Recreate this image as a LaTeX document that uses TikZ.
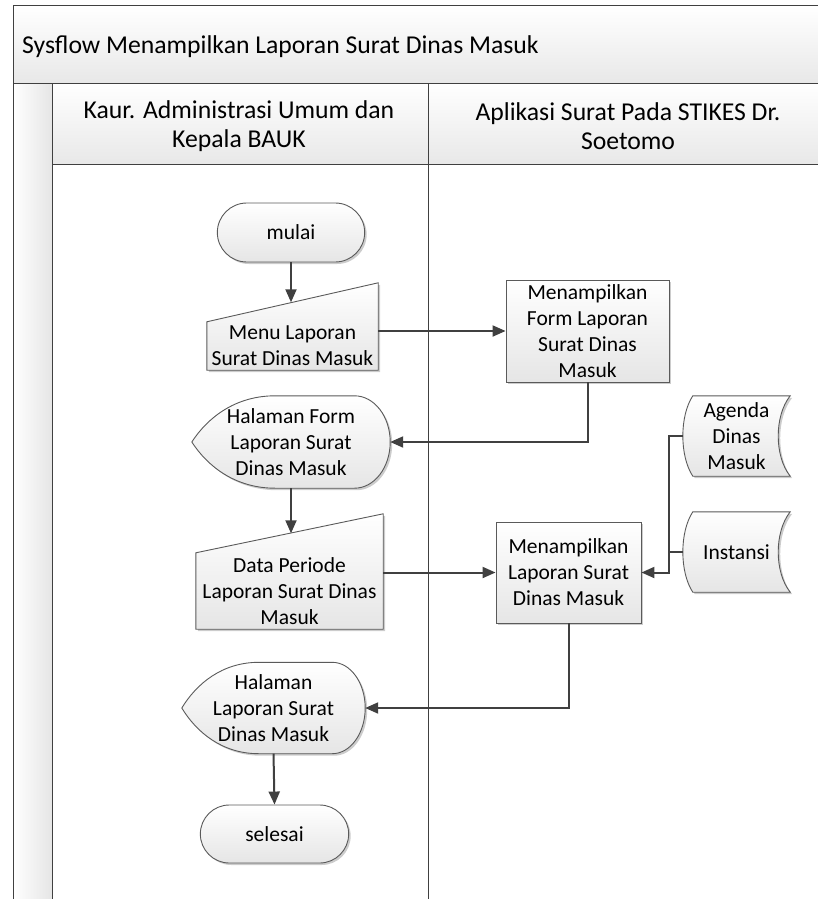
\documentclass[tikz,border=0pt]{standalone}
\usepackage{fontspec}
\setmainfont{Carlito}
\usepackage{tikz}
\usetikzlibrary{
  arrows.meta,
  positioning,
  calc,
  shapes.misc,
  shadows,
  backgrounds
}
\definecolor{linha}{HTML}{404040}
\definecolor{borda}{HTML}{5A5A5A}

\tikzset{
  sombra/.style={drop shadow={shadow xshift=2pt, shadow yshift=-2pt, fill=black, opacity=0.2}},
  forma/.style={draw=borda, line width=0.9pt, top color=white, bottom color=black!10, sombra},
  terminal/.style={forma, rounded rectangle, minimum width=154pt, minimum height=59pt},
  processo/.style={forma, rectangle, minimum width=163pt, minimum height=102pt, align=center, inner sep=0pt},
  texto/.style={align=center, inner sep=0pt},
  cabecalho/.style={texto, font=\fontsize{25.7}{29}\selectfont},
  fluxo/.style={draw=linha, line width=2pt, -{Triangle[length=13pt, width=11pt]}},
  ligacao/.style={draw=linha, line width=2pt},
  moldura/.style={draw=linha, line width=1pt}
}

% Entrada manual (topo inclinado)
\newcommand{\entradamanual}[1]{%
  \draw[forma] (#1.south west) -- (#1.north west) -- ($(#1.north east)+(0,-39)$) -- (#1.south east) -- cycle;}

% Tela de exibição (ponta à esquerda, arco à direita)
\newcommand{\telaexibicao}[1]{%
  \draw[forma] let \p1=(#1.south west), \p2=(#1.north east), \p3=(#1.center) in
    (\x1,\y3)
    .. controls ({\x1+0.08*(\x2-\x1)},{\y3+0.53*(\y2-\y3)}) and ({\x1+0.22*(\x2-\x1)},\y2) .. ({\x1+0.42*(\x2-\x1)},\y2)
    -- ({\x2-0.18*(\x2-\x1)},\y2)
    .. controls ({\x2-0.08*(\x2-\x1)},\y2) and (\x2,{\y3+0.55*(\y2-\y3)}) .. (\x2,\y3)
    .. controls (\x2,{\y3-0.55*(\y2-\y3)}) and ({\x2-0.08*(\x2-\x1)},\y1) .. ({\x2-0.18*(\x2-\x1)},\y1)
    -- ({\x1+0.42*(\x2-\x1)},\y1)
    .. controls ({\x1+0.22*(\x2-\x1)},\y1) and ({\x1+0.08*(\x2-\x1)},{\y3-0.53*(\y2-\y3)}) .. cycle;}

% Dados armazenados (dois lados curvos)
\newcommand{\dadosarmazenados}[1]{%
  \draw[forma] let \p1=(#1.south west), \p2=(#1.north east), \p3=(#1.center) in
    ({\x1+10pt},\y2) -- (\x2,\y2)
    .. controls ({\x2-16pt},{0.5*\y2+0.5*\y3}) and ({\x2-16pt},{0.5*\y1+0.5*\y3}) .. (\x2,\y1)
    -- ({\x1+10pt},\y1)
    .. controls ({\x1-3.3pt},{0.5*\y1+0.5*\y3}) and ({\x1-3.3pt},{0.5*\y2+0.5*\y3}) .. cycle;}

\begin{document}
\begin{tikzpicture}[x=1pt, y=-1pt, every node/.style={font=\fontsize{21.5}{26}\selectfont}]
  \useasboundingbox (0,0) rectangle (817,899);

  % Moldura: faixa do título, cabeçalhos e raias
  \begin{scope}[on background layer]
    \shade[top color=white, bottom color=black!9] (13,6) rectangle (830,83);
    \shade[top color=white, bottom color=black!9] (52,83) rectangle (830,164);
    \shade[left color=white, right color=black!10] (13,83) rectangle (52,905);
    \draw[moldura] (830,6) -- (13,6) -- (13,905);
    \draw[moldura] (13,83) -- (830,83);
    \draw[moldura] (52,83) -- (52,905);
    \draw[moldura] (52,164) -- (830,164);
    \draw[moldura] (428,83) -- (428,905);
  \end{scope}

  % Título e nomes das raias
  \node[cabecalho, anchor=west] (titulo) at (22,47) {Sysflow Menampilkan Laporan Surat Dinas Masuk};
  \node[cabecalho] (raiakaur) at (239,126) {Kaur. Administrasi Umum dan\\Kepala BAUK};
  \node[cabecalho] (raiaapp) at (628,126) {Aplikasi Surat Pada STIKES Dr.\\Soetomo};

  % Símbolos do fluxo
  \node[terminal] (mulai) at (291,232.5) {mulai};
  \node[texto, minimum width=171pt, minimum height=48pt] (menu) at (292.5,346) {Menu Laporan\\Surat Dinas Masuk};
  \node[processo] (form) at (587.5,331) {Menampilkan\\Form Laporan\\Surat Dinas\\Masuk};
  \node[texto, minimum width=198pt, minimum height=92pt] (hform) at (291,442) {Halaman Form\\Laporan Surat\\Dinas Masuk};
  \node[texto, minimum width=107pt, minimum height=80pt] (agenda) at (736.5,436) {Agenda\\Dinas\\Masuk};
  \node[texto, minimum width=187pt, minimum height=76pt] (periode) at (289.5,591) {Data Periode\\Laporan Surat Dinas\\Masuk};
  \node[processo, minimum width=145pt, minimum height=101pt] (lapor) at (568.5,572.5) {Menampilkan\\Laporan Surat\\Dinas Masuk};
  \node[texto, minimum width=107pt, minimum height=80pt] (instansi) at (736.5,552) {Instansi};
  \node[texto, minimum width=183pt, minimum height=91pt] (hlapor) at (273.5,708) {Halaman\\Laporan Surat\\Dinas Masuk};
  \node[terminal, minimum width=155pt, minimum height=58pt] (selesai) at (274.5,834) {selesai};

  % Contornos desenhados atrás dos textos
  \begin{scope}[on background layer]
    \entradamanual{menu}
    \entradamanual{periode}
    \telaexibicao{hform}
    \telaexibicao{hlapor}
    \dadosarmazenados{agenda}
    \dadosarmazenados{instansi}
  \end{scope}

  % Pontos no topo inclinado das entradas manuais
  \coordinate (menutopo) at ($(menu.north west)!0.5!(menu.north east)+(0,-19.5)$);
  \coordinate (periodetopo) at ($(periode.north west)!0.5!(periode.north east)+(0,-19.5)$);

  % Ligações
  \draw[fluxo] (mulai.south) -- (mulai.south |- menutopo);
  \draw[fluxo] (menu.east |- form.west) -- (form.west);
  \draw[fluxo] (form.south) |- (hform.east);
  \draw[fluxo] (hform.south) -- (hform.south |- periodetopo);
  \draw[fluxo] (periode.east |- lapor.west) -- (lapor.west);
  \draw[fluxo] (agenda.west) -- ++(-14,0) |- (lapor.east);
  \draw[ligacao] (instansi.west) -- ++(-14,0);
  \draw[fluxo] (lapor.south) |- (hlapor.east);
  \draw[fluxo] (hlapor.south) -- (selesai.north);
\end{tikzpicture}
\end{document}
